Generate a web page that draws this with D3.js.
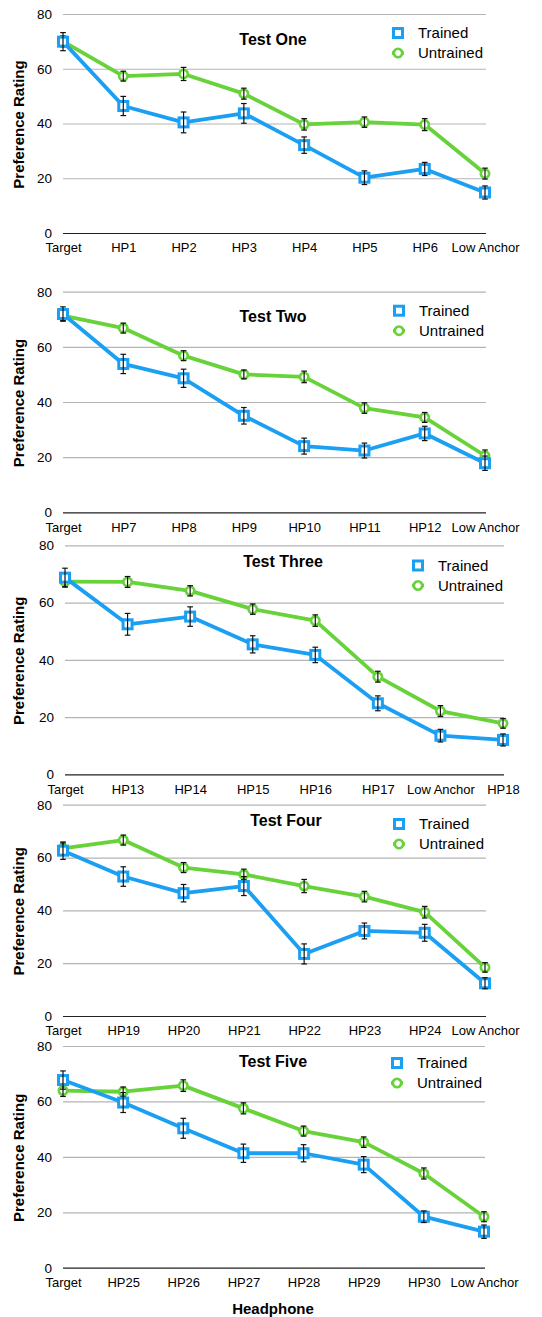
<!DOCTYPE html>
<html>
<head>
<meta charset="utf-8">
<script src="https://cdn.jsdelivr.net/npm/d3@7"></script>
<style>
    body { margin: 0; background: #fff; }
    text { font-family: "Liberation Sans", Arial, Helvetica, sans-serif; }
</style>
</head>
<body>
<script>
/* ----------------------------------------------------------------------------
Five stacked line charts of preference ratings, trained vs untrained listeners.
-----------------------------------------------------------------------------*/

//Chart data
var tests = ["Test One", "Test Two", "Test Three", "Test Four", "Test Five"];
var seriesNames = ["Trained", "Untrained"];
var yTicks = [0, 20, 40, 60, 80];

var categories = [
    ["Target", "HP1", "HP2", "HP3", "HP4", "HP5", "HP6", "Low Anchor"],
    ["Target", "HP7", "HP8", "HP9", "HP10", "HP11", "HP12", "Low Anchor"],
    ["Target", "HP13", "HP14", "HP15", "HP16", "HP17", "Low Anchor", "HP18"],
    ["Target", "HP19", "HP20", "HP21", "HP22", "HP23", "HP24", "Low Anchor"],
    ["Target", "HP25", "HP26", "HP27", "HP28", "HP29", "HP30", "Low Anchor"]
];

var trained = [
    [69.9, 46.4, 40.4, 43.7, 32.1, 20.2, 23.4, 14.8],
    [71.9, 53.8, 48.6, 35.0, 24.0, 22.4, 28.6, 17.8],
    [68.7, 52.4, 55.1, 45.4, 41.7, 24.8, 13.5, 12.0],
    [62.6, 52.8, 46.5, 49.2, 23.5, 32.2, 31.5, 12.4],
    [67.7, 59.6, 50.3, 41.3, 41.3, 37.2, 18.4, 13.0]
];
var trainedErr = [
    [3.3, 3.5, 3.8, 3.6, 3.0, 2.5, 2.4, 2.4],
    [2.6, 3.5, 3.3, 3.0, 2.9, 2.7, 2.6, 2.6],
    [3.3, 3.8, 3.4, 3.0, 2.7, 2.6, 2.2, 2.1],
    [3.3, 3.7, 3.3, 3.6, 3.8, 3.0, 3.2, 2.1],
    [3.3, 3.6, 3.6, 3.3, 3.1, 2.9, 2.1, 2.4]
];
var untrained = [
    [70.0, 57.3, 58.1, 50.9, 39.7, 40.5, 39.6, 21.7],
    [71.3, 66.8, 56.8, 50.0, 49.1, 37.8, 34.4, 20.5],
    [67.3, 67.2, 64.1, 57.7, 53.7, 34.1, 22.1, 17.8],
    [63.5, 66.6, 56.2, 53.6, 49.2, 45.2, 39.3, 18.4],
    [63.9, 63.5, 65.7, 57.5, 49.3, 45.3, 34.0, 18.4]
];
var untrainedErr = [
    [2.0, 1.8, 2.4, 2.0, 2.1, 1.9, 2.2, 2.0],
    [1.8, 1.8, 1.8, 1.6, 2.1, 1.9, 1.8, 2.1],
    [1.8, 1.9, 1.8, 1.8, 2.0, 1.9, 1.9, 1.7],
    [2.0, 1.9, 1.9, 2.0, 2.5, 2.0, 2.2, 1.8],
    [2.1, 1.7, 2.1, 2.0, 1.8, 1.9, 2.0, 1.8]
];

//Panel placement on the page (plot box, title and legend anchors)
var layout = [
    {top: 14, bottom: 233, left: 63, right: 485,
        title: [273, 39], legend: [398, 33]},
    {top: 291.7, bottom: 512.3, left: 63, right: 485,
        title: [273, 316.7], legend: [399, 310.7]},
    {top: 545.3, bottom: 774.3, left: 65, right: 503,
        title: [283, 561.7], legend: [418, 565.5]},
    {top: 804.7, bottom: 1016, left: 63, right: 485,
        title: [286, 820.7], legend: [399, 824]},
    {top: 1046, bottom: 1267.7, left: 63, right: 484,
        title: [273, 1061.7], legend: [397, 1063]}
];

var colors = {Trained: "#1a9ff2", Untrained: "#68d23a"};

var svg = d3.select("body")
    .append("svg")
    .attr("width", 542)
    .attr("height", 1317);

tests.forEach(function (test, i) {
    var L = layout[i];

    var x = d3.scalePoint()
        .domain(categories[i])
        .range([L.left, L.right])
        .padding(0);

    var y = d3.scaleLinear()
        .domain([0, 80])
        .range([L.bottom, L.top]);

    var g = svg.append("g");

    //Grid lines and y tick labels
    var yAxis = g.append("g")
        .attr("transform", "translate(" + L.left + ",0)")
        .call(d3.axisLeft(y)
            .tickValues(yTicks)
            .tickSize(-(L.right - L.left + 1))
            .tickPadding(11));
    yAxis.select(".domain").remove();
    yAxis.selectAll(".tick line")
        .attr("stroke", function (d) { return d === 0 ? "#222" : "#b4b4b4"; })
        .attr("stroke-width", 1.2);
    yAxis.selectAll(".tick text")
        .attr("fill", "#000")
        .style("font-size", "13.5px");

    //Category labels
    var xAxis = g.append("g")
        .attr("transform", "translate(0," + L.bottom + ")")
        .call(d3.axisBottom(x).tickSize(0).tickPadding(10));
    xAxis.select(".domain").remove();
    xAxis.selectAll(".tick text")
        .attr("fill", "#000")
        .style("font-size", "13px");

    //Y axis title
    g.append("text")
        .attr("transform", "translate(19," + ((L.top + L.bottom) / 2 + 1) +
            ") rotate(-90)")
        .attr("text-anchor", "middle")
        .attr("dy", "0.35em")
        .style("font-size", "15px")
        .style("font-weight", "bold")
        .attr("fill", "#000")
        .text("Preference Rating");

    //Panel title
    g.append("text")
        .attr("x", L.title[0])
        .attr("y", L.title[1])
        .attr("dy", "0.35em")
        .attr("text-anchor", "middle")
        .style("font-size", "16px")
        .style("font-weight", "bold")
        .attr("fill", "#000")
        .text(test);

    var series = [
        {name: "Untrained", values: untrained[i], err: untrainedErr[i]},
        {name: "Trained", values: trained[i], err: trainedErr[i]}
    ];

    var line = d3.line()
        .x(function (d) { return x(d.cat); })
        .y(function (d) { return y(d.v); });

    series.forEach(function (s) {
        var pts = s.values.map(function (v, j) {
            return {cat: categories[i][j], v: v, e: s.err[j]};
        });

        g.append("path")
            .datum(pts)
            .attr("fill", "none")
            .attr("stroke", colors[s.name])
            .attr("stroke-width", 3.8)
            .attr("stroke-linejoin", "round")
            .attr("d", line);

        var mk = g.append("g").selectAll("g")
            .data(pts)
            .enter().append("g")
            .attr("transform", function (d) {
                return "translate(" + x(d.cat) + "," + y(d.v) + ")";
            });

        if (s.name === "Trained") {
            mk.append("rect")
                .attr("x", -4.5).attr("y", -4.5)
                .attr("width", 9).attr("height", 9)
                .attr("fill", "#fff")
                .attr("stroke", colors[s.name])
                .attr("stroke-width", 3);
        } else {
            mk.append("circle")
                .attr("r", 4.2)
                .attr("fill", "#fff")
                .attr("stroke", colors[s.name])
                .attr("stroke-width", 2.6);
        }

        //Error bars
        var eb = g.append("g").selectAll("g")
            .data(pts)
            .enter().append("g")
            .attr("stroke", "#111")
            .attr("stroke-width", 1.2);
        eb.append("line")
            .attr("x1", function (d) { return x(d.cat); })
            .attr("x2", function (d) { return x(d.cat); })
            .attr("y1", function (d) { return y(d.v - d.e); })
            .attr("y2", function (d) { return y(d.v + d.e); });
        [-1, 1].forEach(function (sign) {
            eb.append("line")
                .attr("x1", function (d) { return x(d.cat) - 2.8; })
                .attr("x2", function (d) { return x(d.cat) + 2.8; })
                .attr("y1", function (d) { return y(d.v + sign * d.e); })
                .attr("y2", function (d) { return y(d.v + sign * d.e); });
        });
    });

    //Legend
    var lg = g.append("g")
        .attr("transform", "translate(" + L.legend[0] + "," + L.legend[1] + ")");
    seriesNames.forEach(function (name, k) {
        var row = lg.append("g")
            .attr("transform", "translate(0," + (k * 20) + ")");
        row.append("line")
            .attr("x1", -6).attr("x2", 6)
            .attr("stroke", colors[name])
            .attr("stroke-width", 3.6);
        if (name === "Trained") {
            row.append("rect")
                .attr("x", -4.5).attr("y", -4.5)
                .attr("width", 9).attr("height", 9)
                .attr("fill", "#fff")
                .attr("stroke", colors[name])
                .attr("stroke-width", 3);
        } else {
            row.append("circle")
                .attr("r", 4.2)
                .attr("fill", "#fff")
                .attr("stroke", colors[name])
                .attr("stroke-width", 2.6);
        }
        row.append("text")
            .attr("x", 20)
            .attr("dy", "0.35em")
            .style("font-size", "15px")
            .attr("fill", "#000")
            .text(name);
    });
});

//Shared x axis title
svg.append("text")
    .attr("x", 273)
    .attr("y", 1309)
    .attr("dy", "0.35em")
    .attr("text-anchor", "middle")
    .style("font-size", "15px")
    .style("font-weight", "bold")
    .attr("fill", "#000")
    .text("Headphone");
</script>
</body>
</html>
